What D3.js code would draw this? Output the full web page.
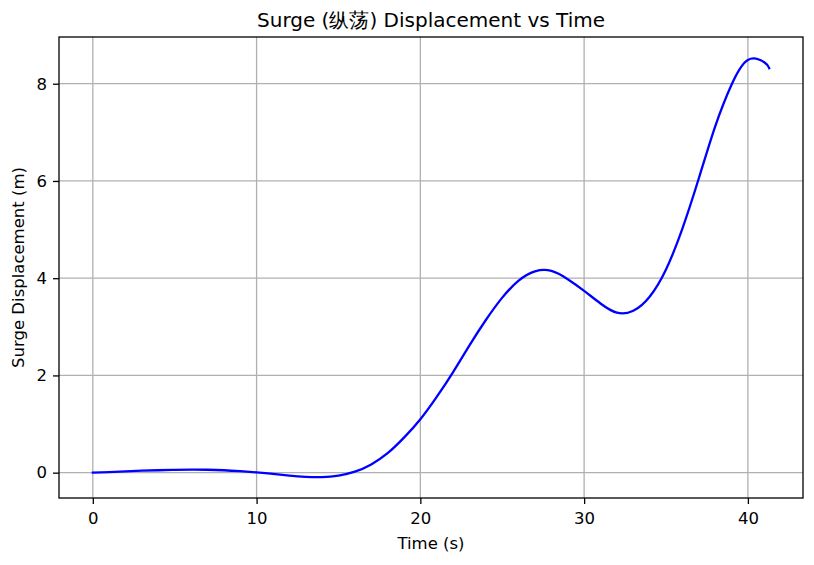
<!DOCTYPE html>
<html>
<head>
<meta charset="utf-8">
<script src="https://cdn.jsdelivr.net/npm/d3@7"></script>
<style>
  html, body { margin: 0; padding: 0; background: #fff; }
  svg { display: block; }
  text { font-family: "DejaVu Sans", sans-serif; fill: #000; }
</style>
</head>
<body>
<svg id="chart" width="814" height="565"></svg>
<script>
const times = [0,1,2,3,4,5,6,7,8,9,10,11,12,13,14,15,16,17,18,19,20,21,22,23,24,25,26,27,28,29,30,31,32,33,34,35,36,37,38,39,40,41,41.3];
const surge = [0.00,0.01,0.025,0.04,0.05,0.058,0.062,0.06,0.05,0.03,0.005,-0.025,-0.06,-0.085,-0.09,-0.06,0.02,0.17,0.40,0.72,1.10,1.56,2.07,2.62,3.14,3.60,3.95,4.14,4.15,3.98,3.74,3.48,3.29,3.33,3.62,4.18,5.02,6.05,7.12,7.98,8.49,8.44,8.32];
const xTicks = [0,10,20,30,40];
const yTicks = [0,2,4,6,8];
const titleText = "Surge (纵荡) Displacement vs Time";
const xLabel = "Time (s)";
const yLabel = "Surge Displacement (m)";

(function () {
const svg = d3.select("#chart");
const mLeft = 59, mRight = 803, mTop = 37, mBottom = 498;

const xMin = d3.min(times), xMax = d3.max(times);
const yMin = d3.min(surge), yMax = 8.53;
const xPad = (xMax - xMin) * 0.05, yPad = (yMax - yMin) * 0.05;
const x = d3.scaleLinear().domain([xMin - xPad, xMax + xPad]).range([mLeft, mRight]);
const y = d3.scaleLinear().domain([yMin - yPad, yMax + yPad]).range([mBottom, mTop]);

// grid
const grid = svg.append("g");
grid.selectAll(".gx").data(xTicks).enter().append("line")
  .attr("x1", d => x(d)).attr("x2", d => x(d)).attr("y1", mTop).attr("y2", mBottom)
  .attr("stroke", "#b0b0b0").attr("stroke-width", 1.3);
grid.selectAll(".gy").data(yTicks).enter().append("line")
  .attr("y1", d => y(d)).attr("y2", d => y(d)).attr("x1", mLeft).attr("x2", mRight)
  .attr("stroke", "#b0b0b0").attr("stroke-width", 1.3);

// line
const line = d3.line().x((d, i) => x(times[i])).y(d => y(d)).curve(d3.curveNatural);
svg.append("path").datum(surge).attr("d", line)
  .attr("fill", "none").attr("stroke", "#0000ff").attr("stroke-width", 2.3)
  .attr("stroke-linecap", "square");

// axes
const xAxis = d3.axisBottom(x).tickValues(xTicks).tickSize(6).tickPadding(8).tickFormat(d3.format("d"));
const yAxis = d3.axisLeft(y).tickValues(yTicks).tickSize(6).tickPadding(6).tickFormat(d3.format("d"));
const gx = svg.append("g").attr("transform", `translate(0,${mBottom})`).call(xAxis);
const gy = svg.append("g").attr("transform", `translate(${mLeft},0)`).call(yAxis);
[gx, gy].forEach(g => {
  g.select(".domain").remove();
  g.selectAll("text").attr("font-size", 16.5).attr("font-family", "DejaVu Sans").attr("fill", "#000");
  g.selectAll("line").attr("stroke", "#000").attr("stroke-width", 1.3);
});

// frame
svg.append("rect").attr("x", mLeft).attr("y", mTop).attr("width", mRight - mLeft).attr("height", mBottom - mTop)
  .attr("fill", "none").attr("stroke", "#000").attr("stroke-width", 1.3);

// labels
svg.append("text").attr("x", (mLeft + mRight) / 2).attr("y", 27).attr("text-anchor", "middle")
  .attr("font-size", 20).text(titleText);
svg.append("text").attr("x", (mLeft + mRight) / 2).attr("y", 549).attr("text-anchor", "middle")
  .attr("font-size", 16.5).text(xLabel);
svg.append("text").attr("transform", `translate(24,${(mTop + mBottom) / 2}) rotate(-90)`).attr("text-anchor", "middle")
  .attr("font-size", 16.5).text(yLabel);
})();
</script>
</body>
</html>
